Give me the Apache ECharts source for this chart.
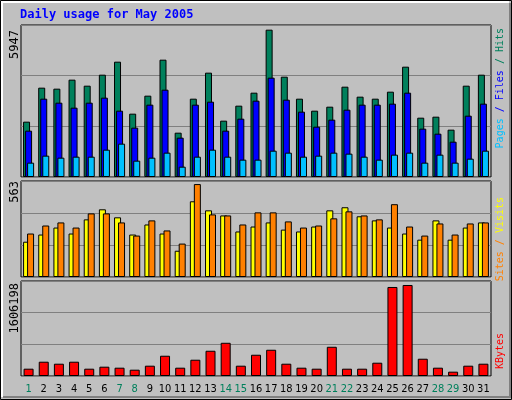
<!DOCTYPE html>
<html><head><meta charset="utf-8">
<script src="https://cdn.jsdelivr.net/npm/echarts@6/dist/echarts.min.js"></script>
<style>html,body{margin:0;padding:0;background:#fff}#c{width:512px;height:400px}</style>
</head><body><div id="c"></div>
<script>
const days = ['1','2','3','4','5','6','7','8','9','10','11','12','13','14','15','16','17','18','19','20','21','22','23','24','25','26','27','28','29','30','31'];
const weekend = ['1','7','8','14','15','21','22','28','29'];
const hits  = [2165,3495,3456,3808,3573,4003,4512,2478,3182,4590,1734,3064,4082,2204,2791,3299,5764,3925,3064,2595,2751,3534,3143,3064,3338,4316,2321,2360,1852,3573,4003];
const files = [1813,3064,2908,2712,2908,3104,2595,1930,2830,3416,1539,2830,2947,1813,2282,2986,3886,3025,2556,1969,2243,2634,2830,2830,2869,3299,1891,1695,1382,2399,2869];
const pages = [561,835,756,795,795,1069,1304,639,756,952,404,795,1069,795,678,678,1030,952,795,835,952,913,795,678,874,952,561,874,561,717,1030];
const visits= [207,249,290,255,338,397,350,249,308,255,154,444,391,361,267,296,320,278,267,296,391,409,356,332,290,255,219,332,219,290,320];
const sites = [255,302,320,290,373,373,320,243,332,273,196,545,367,361,308,379,379,326,290,302,344,385,361,338,427,296,243,314,249,314,320];
const kbytes= [123552,241488,207792,241488,123552,157248,140400,106704,174096,342576,140400,275184,426816,561600,174096,359424,443664,207792,140400,123552,494208,123552,123552,224640,1505088,1538784,292032,140400,73008,174096,207792];
const maxHits = 5947, maxVisits = 563, maxKB = 1606198;

const FONT = 'DejaVu Sans Mono';
const LF = '10px '+FONT;
const grids = [
  {left:21,right:21,top:25,height:152},
  {left:21,right:21,top:181,height:96},
  {left:21,right:21,top:281,height:95}
].map(g=>Object.assign(g,{show:true,borderColor:'#000',borderWidth:1,backgroundColor:'transparent'}));
const xAxes = [0,1,2].map(i=>({
  type:'category',gridIndex:i,data:days,
  axisLine:{show:false},axisTick:{show:false},
  axisLabel:{show:i===2,interval:0,margin:8,fontFamily:'DejaVu Sans Condensed',fontSize:11,
    color:(v)=>weekend.includes(v)?'#00805c':'#000'}
}));
const yAx = (i,max)=>({type:'value',gridIndex:i,min:0,max:max,interval:max/3,
  axisLine:{show:false},axisTick:{show:false},axisLabel:{show:false},
  splitLine:{show:true,lineStyle:{color:'#808080',width:1}}});
const bs = (name,data,color,xi,w,gap)=>({type:'bar',name,data,xAxisIndex:xi,yAxisIndex:xi,
  barWidth:w,barGap:gap,itemStyle:{color,borderColor:'#000',borderWidth:1},animation:false,silent:true});

const chart = echarts.init(document.getElementById('c'));
chart.setOption({
  backgroundColor:'#c0c0c0',
  animation:false,
  grid:grids, xAxis:xAxes,
  yAxis:[yAx(0,maxHits),yAx(1,maxVisits),yAx(2,maxKB)],
  series:[
    bs('Hits',hits,'#00805c',0,7,'-71%'),
    bs('Files',files,'#0000ff',0,7,'-71%'),
    bs('Pages',pages,'#00c0ff',0,7,'-71%'),
    bs('Visits',visits,'#ffff00',1,7,'-43%'),
    bs('Sites',sites,'#ff8000',1,7,'-43%'),
    bs('KBytes',kbytes,'#ff0000',2,10,'0%')
  ],
  graphic:[
    {type:'rect',shape:{x:0.5,y:0.5,width:511,height:399},style:{fill:'none',stroke:'#000',lineWidth:1},z:-1},
    {type:'polyline',shape:{points:[[2,397],[2,2],[509,2]]},style:{stroke:'#fff',lineWidth:2,fill:'none'}},
    {type:'polyline',shape:{points:[[510,3],[510,397],[3,397]]},style:{stroke:'#808080',lineWidth:2,fill:'none'}},
    {type:'text',x:20,y:9,style:{text:'Daily usage for May 2005',fill:'#0000ff',font:'bold 12px '+FONT}},
    {type:'text',x:9,y:30,rotation:Math.PI/2,style:{text:'5947',fill:'#000',font:'12px '+FONT,textAlign:'right',textVerticalAlign:'top'}},
    {type:'text',x:9,y:181,rotation:Math.PI/2,style:{text:'563',fill:'#000',font:'12px '+FONT,textAlign:'right',textVerticalAlign:'top'}},
    {type:'text',x:9,y:283,rotation:Math.PI/2,style:{text:'1606198',fill:'#000',font:'12px '+FONT,textAlign:'right',textVerticalAlign:'top'}},
    {type:'text',x:495,y:28,rotation:Math.PI/2,style:{rich:{h:{fill:'#00805c',font:LF},f:{fill:'#0000ff',font:LF},p:{fill:'#00c0ff',font:LF}},text:'{p|Pages}{f| / Files}{h| / Hits}',textAlign:'right',textVerticalAlign:'top'}},
    {type:'text',x:495,y:197,rotation:Math.PI/2,style:{rich:{s:{fill:'#ff8000',font:LF},v:{fill:'#ffff00',font:LF}},text:'{s|Sites / }{v|Visits}',textAlign:'right',textVerticalAlign:'top'}},
    {type:'text',x:495,y:333,rotation:Math.PI/2,style:{text:'KBytes',fill:'#ff0000',font:LF,textAlign:'right',textVerticalAlign:'top'}}
  ]
});
</script></body></html>
